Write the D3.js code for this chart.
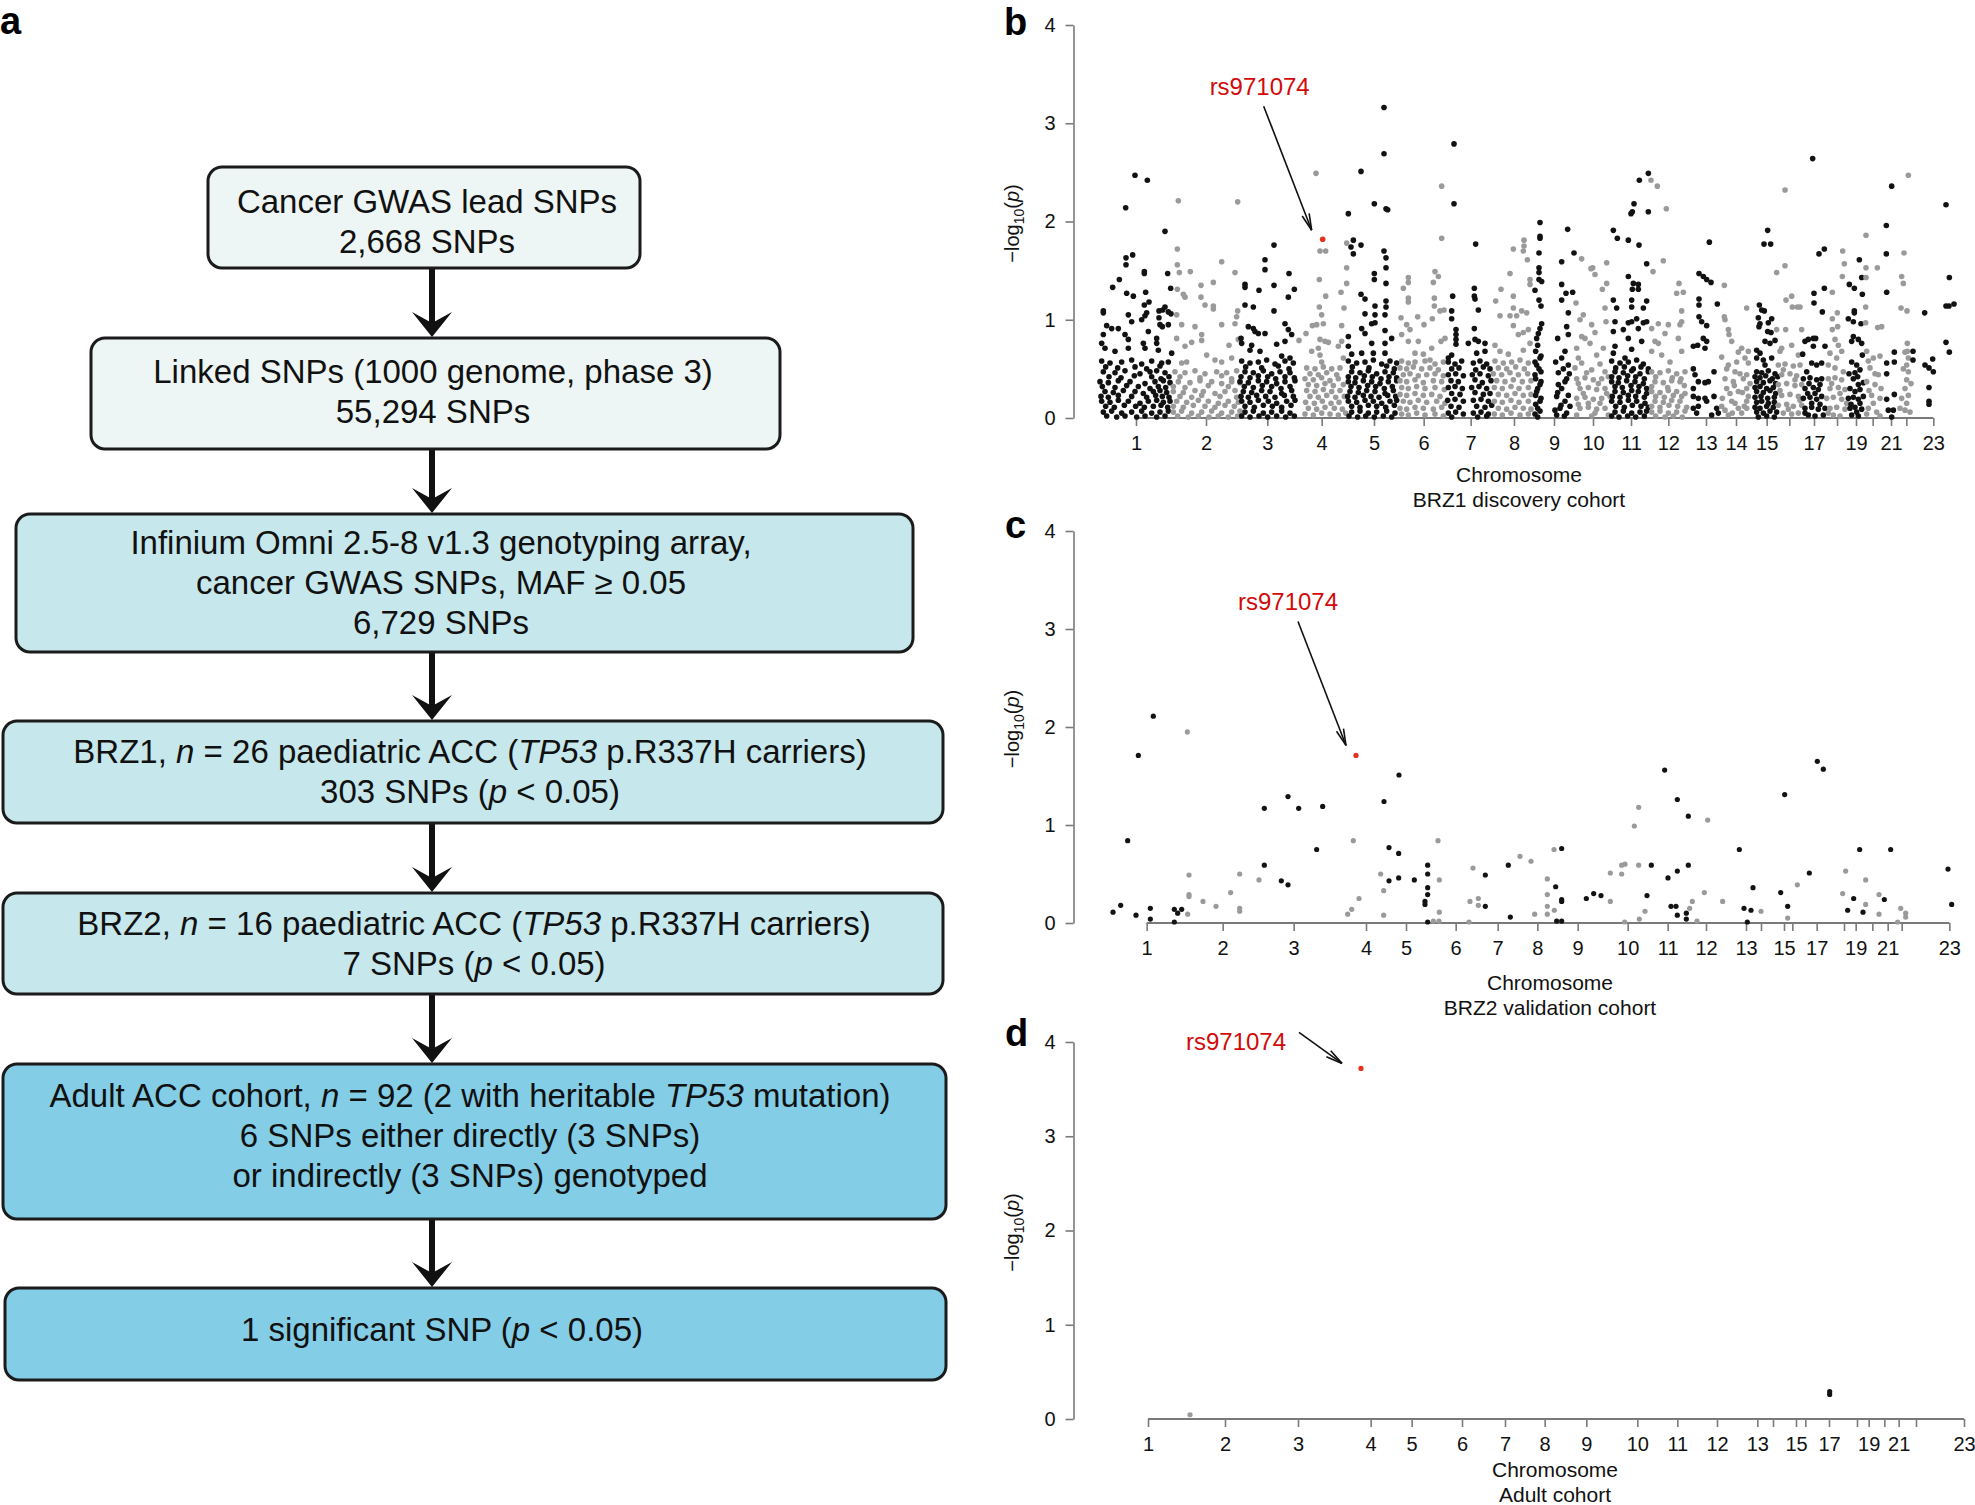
<!DOCTYPE html>
<html>
<head>
<meta charset="utf-8">
<script src="https://cdn.jsdelivr.net/npm/d3@7"></script>
<style>
  body { margin: 0; background: #fff; }
  text { font-family: "Liberation Sans", Arial, Helvetica, sans-serif; }
</style>
</head>
<body>
<div id="fig"></div>
<script>
// ---- data ----
// chromosome labels and which labels are printed under each Manhattan plot
const chrLabels = d3.range(1, 24).map(String);
const shownB = ['1','2','3','4','5','6','7','8','9','10','11','12','13','14','15','17','19','21','23'];
const shownCD = ['1','2','3','4','5','6','7','8','9','10','11','12','13','15','17','19','21','23'];

// chromosome centre positions (cumulative genome index) for each cohort
const ticksB = [153,363,547,710,867,1016,1157,1287,1407,1524,1638,1750,1863,1953,2045,2113,2187,2256,2313,2363,2418,2464,2545];
const ticksC = [185,413,626,843,963,1112,1238,1357,1478,1628,1748,1863,1983,2028,2097,2122,2195,2277,2312,2362,2408,2450,2593];
const ticksD = [189,420,639,857,980,1131,1260,1379,1504,1657,1777,1896,2017,2064,2133,2161,2232,2316,2351,2398,2441,2493,2637];

// BRZ1 discovery cohort: [position, -log10(p)] per chromosome
const b01 = [[150,2.47],[187,2.42],[122,2.14],[240,1.90],[123,1.63],[143,1.66],[123,1.56],[178,1.49],[178,1.47],[248,1.47],[103,1.41],[83,1.33],[257,1.32],[125,1.27],[145,1.24],[182,1.28],[55,1.09],[55,1.07],[192,1.18],[178,1.15],[240,1.13],[233,1.10],[250,1.08],[258,1.06],[130,1.05],[140,0.98],[180,1.04],[185,1.07],[170,1.00],[222,1.09],[222,1.02],[225,0.95],[250,0.95],[232,0.93],[65,0.94],[80,0.91],[100,0.91],[55,0.85],[120,0.85],[130,0.80],[190,0.88],[50,0.76],[60,0.71],[90,0.68],[130,0.71],[175,0.76],[180,0.71],[215,0.81],[215,0.76],[220,0.69],[260,0.66],
  [50,.58],[75,.56],[110,.57],[140,.59],[170,.55],[200,.58],[230,.56],[250,.57],[62,.52],[98,.51],[150,.52],[185,.50],[225,.53],
  [55,.47],[90,.46],[120,.48],[165,.45],[195,.47],[215,.48],[240,.46],[72,.42],[108,.41],[148,.43],[200,.42],[228,.40],[252,.42],
  [45,.37],[70,.36],[100,.38],[135,.37],[180,.35],[210,.37],[235,.38],[255,.36],[52,.32],[90,.31],[125,.33],[160,.32],[195,.30],[220,.32],[242,.31],
  [60,.27],[85,.26],[115,.28],[150,.27],[175,.25],[205,.27],[225,.28],[245,.26],[48,.22],[70,.21],[100,.23],[140,.22],[185,.21],[212,.23],[232,.22],[252,.21],
  [50,.17],[75,.16],[100,.18],[130,.17],[165,.15],[190,.17],[215,.18],[235,.16],[255,.17],[62,.12],[88,.11],[118,.13],[152,.12],[178,.11],[205,.12],[228,.13],[248,.11],
  [55,.06],[80,.07],[110,.05],[140,.06],[170,.07],[200,.05],[225,.06],[250,.07],[65,.02],[95,.01],[120,.02],[155,.01],[180,.02],[215,.01],[240,.02]];
const b02 = [[280,2.21],[458,2.20],[277,1.72],[277,1.56],[410,1.59],[283,1.48],[316,1.49],[450,1.48],[385,1.38],[348,1.35],[277,1.31],[295,1.26],[300,1.23],[348,1.23],[360,1.15],[385,1.14],[385,1.11],[458,1.09],[275,1.05],[290,0.95],[330,0.93],[410,0.95],[450,0.96],[455,1.03],[350,0.85],[350,0.79],[275,0.81],[300,0.73],[320,0.77],[432,0.74],[460,0.80],[365,0.64],[390,0.59],[410,0.57],[440,0.61],[290,0.56],[305,0.57],
  [270,.47],[300,.46],[330,.48],[360,.45],[395,.47],[425,.46],[455,.48],[285,.42],[345,.41],[410,.43],[440,.40],
  [280,.37],[315,.36],[345,.38],[380,.37],[410,.35],[440,.37],[465,.36],[265,.32],[300,.31],[370,.33],[430,.32],
  [265,.27],[295,.26],[330,.28],[355,.27],[390,.25],[420,.27],[450,.28],[285,.22],[320,.21],[350,.23],[405,.22],[455,.21],
  [275,.17],[305,.16],[340,.18],[370,.17],[400,.15],[430,.17],[460,.16],[265,.12],[295,.11],[325,.13],[360,.12],[390,.11],[420,.13],[448,.12],
  [265,.06],[290,.07],[320,.05],[350,.06],[380,.07],[410,.05],[440,.06],[465,.07],[278,.02],[310,.01],[340,.02],[372,.01],[400,.02],[430,.01],[458,.02]];
const b03 = [[567,1.76],[540,1.61],[540,1.51],[612,1.47],[480,1.36],[480,1.33],[522,1.30],[567,1.35],[628,1.31],[610,1.23],[480,1.15],[505,1.13],[567,1.09],[600,0.96],[490,0.93],[505,0.91],[510,0.88],[520,0.86],[540,0.86],[610,0.90],[620,0.85],[468,0.81],[470,0.76],[500,0.74],[575,0.75],[600,0.78],[495,0.69],[525,0.68],[590,0.63],[615,0.61],
  [470,.58],[495,.56],[520,.57],[545,.59],[570,.55],[600,.58],[625,.56],[482,.52],[530,.51],[580,.53],[612,.50],
  [480,.47],[505,.46],[535,.48],[560,.45],[585,.47],[615,.46],[468,.42],[495,.41],[520,.43],[548,.42],[572,.40],[600,.42],[628,.41],
  [465,.37],[490,.36],[520,.38],[545,.37],[575,.35],[600,.37],[630,.38],[478,.32],[505,.31],[532,.33],[560,.32],[588,.30],[615,.32],
  [475,.27],[500,.26],[530,.28],[555,.27],[590,.25],[620,.28],[468,.22],[490,.21],[515,.23],[542,.22],[570,.21],[598,.23],[625,.22],
  [470,.17],[495,.16],[520,.18],[550,.17],[575,.15],[605,.17],[630,.18],[480,.12],[508,.11],[535,.13],[562,.12],[590,.11],[618,.13],
  [480,.06],[505,.07],[535,.05],[560,.06],[590,.07],[615,.05],[470,.02],[495,.01],[522,.02],[548,.01],[575,.02],[602,.01],[628,.02]];
const b04 = [[693,2.49],[705,1.70],[722,1.70],[703,1.41],[722,1.24],[703,1.13],[710,1.05],[715,0.96],[695,0.95],[682,0.94],[663,0.86],[705,0.80],[720,0.78],[730,0.77],[700,0.71],[680,0.68],[705,0.64],[710,0.57],[642,0.79],
  [785,1.78],[785,1.53],[785,1.37],[768,1.28],[777,1.12],[770,0.94],[770,0.78],[760,0.73],[775,0.61],
  [665,.51],[690,.50],[715,.52],[740,.50],[765,.51],[675,.45],[700,.44],[725,.46],[755,.44],[660,.40],[685,.39],[710,.41],[735,.38],[760,.40],
  [670,.34],[695,.33],[720,.35],[745,.33],[775,.34],[665,.28],[690,.27],[715,.29],[740,.27],[765,.28],[675,.22],[700,.21],[725,.23],[752,.21],[778,.22],
  [662,.16],[688,.15],[712,.17],[738,.15],[762,.16],[670,.10],[695,.09],[720,.11],[748,.10],[772,.09],[660,.04],[685,.03],[710,.05],[735,.04],[760,.03],[782,.05]];
const b05 = [[897,3.16],[897,2.69],[828,2.51],[868,2.18],[903,2.13],[908,2.12],[790,2.08],[805,1.81],[798,1.74],[828,1.76],[805,1.67],[897,1.70],[903,1.63],[903,1.53],[903,1.37],[868,1.47],[868,1.41],[828,1.26],[840,1.21],[870,1.14],[903,1.19],[903,1.13],[900,1.05],[840,1.06],[870,1.05],[860,0.96],[870,0.97],[830,0.91],[840,0.86],[900,0.89],[920,0.81],[790,0.83],[790,0.73],[860,0.76],[900,0.76],[830,0.66],[865,0.66],[900,0.66],[800,0.65],
  [790,.58],[815,.56],[840,.57],[865,.59],[890,.55],[915,.58],[935,.56],[802,.52],[852,.51],[905,.53],[928,.50],
  [800,.47],[825,.46],[850,.48],[875,.45],[900,.47],[925,.46],[790,.42],[812,.41],[838,.43],[862,.42],[888,.40],[912,.42],[935,.41],
  [790,.37],[810,.36],[835,.38],[860,.37],[885,.35],[910,.37],[935,.38],[798,.32],[822,.31],[848,.33],[872,.32],[898,.30],[922,.32],
  [795,.27],[820,.26],[845,.28],[870,.27],[900,.25],[925,.28],[788,.22],[810,.21],[835,.23],[858,.22],[882,.21],[908,.23],[932,.22],
  [790,.17],[815,.16],[840,.18],[865,.17],[890,.15],[915,.17],[935,.18],[800,.12],[825,.11],[850,.13],[875,.12],[902,.11],[928,.13],
  [800,.06],[825,.07],[850,.05],[875,.06],[905,.07],[930,.05],[792,.02],[818,.01],[842,.02],[868,.01],[895,.02],[920,.01]];
const b06 = [[1070,2.36],[1070,1.83],[1050,1.49],[1060,1.44],[1045,1.38],[970,1.43],[970,1.38],[955,1.32],[970,1.22],[970,1.18],[1048,1.22],[1048,1.14],[998,1.03],[1017,0.95],[1042,1.01],[948,1.02],[965,0.95],[975,0.90],[1065,1.09],[1077,1.10],[950,0.85],[970,0.78],[1000,0.78],[1040,0.71],[1068,0.78],[1080,0.81],[1015,0.65],[1035,0.59],[990,0.66],
  [950,.58],[970,.56],[990,.57],[1020,.58],[1050,.55],[1075,.57],[945,.51],[965,.50],[985,.52],[1010,.50],[1035,.51],[1060,.49],
  [955,.44],[975,.45],[1000,.43],[1025,.44],[1050,.45],[1075,.43],[945,.38],[965,.37],[990,.39],[1015,.36],[1045,.38],[1070,.37],
  [950,.31],[970,.30],[995,.32],[1020,.30],[1050,.31],[1078,.29],[945,.24],[965,.23],[990,.25],[1015,.23],[1040,.24],[1065,.22],
  [955,.17],[975,.16],[1000,.18],[1025,.16],[1055,.17],[1080,.15],[945,.10],[965,.09],[990,.11],[1015,.10],[1045,.09],[1070,.11],
  [950,.04],[970,.03],[995,.05],[1020,.03],[1050,.04],[1075,.02]];
const b07 = [[1107,2.79],[1107,2.18],[1172,1.77],[1103,1.24],[1168,1.32],[1168,1.24],[1170,1.21],[1180,1.10],[1100,1.09],[1100,1.01],[1113,0.90],[1113,0.85],[1113,0.80],[1113,0.75],[1168,0.91],[1170,0.80],[1180,0.78],[1200,0.76],[1150,0.76],[1175,0.66],[1200,0.68],[1100,0.64],[1090,0.61],
  [1090,.57],[1110,.55],[1130,.58],[1165,.56],[1185,.58],[1205,.55],[1100,.50],[1122,.51],[1172,.49],[1195,.52],[1215,.50],
  [1090,.44],[1112,.45],[1135,.43],[1162,.44],[1185,.45],[1210,.43],[1098,.38],[1120,.37],[1170,.39],[1192,.36],[1218,.38],
  [1090,.31],[1110,.32],[1132,.30],[1160,.31],[1182,.32],[1205,.30],[1100,.25],[1125,.24],[1170,.26],[1195,.24],[1215,.25],
  [1088,.18],[1110,.19],[1135,.17],[1165,.18],[1188,.19],[1210,.17],[1098,.12],[1122,.11],[1175,.12],[1200,.11],[1220,.13],
  [1090,.05],[1112,.06],[1135,.04],[1165,.05],[1188,.06],[1210,.04],[1100,.01],[1178,.01],[1205,.02]];
const b08 = [[1285,1.72],[1317,1.81],[1317,1.75],[1315,1.70],[1327,1.61],[1275,1.47],[1248,1.31],[1232,1.19],[1285,1.24],[1285,1.12],[1275,1.04],[1295,1.04],[1310,1.09],[1325,1.07],[1245,1.04],[1285,0.94],[1300,0.85],[1315,0.87],[1230,0.74],[1245,0.68],[1270,0.65],[1315,0.69],[1335,1.41],[1335,1.36],[1330,0.90],[1335,0.76],
  [1230,.58],[1255,.56],[1280,.57],[1305,.59],[1330,.56],[1240,.51],[1265,.50],[1292,.52],[1318,.50],
  [1225,.45],[1250,.44],[1275,.46],[1300,.44],[1328,.45],[1235,.38],[1260,.37],[1285,.39],[1312,.37],[1338,.38],
  [1228,.31],[1252,.30],[1278,.32],[1302,.30],[1330,.31],[1240,.24],[1265,.23],[1290,.25],[1315,.23],[1338,.24],
  [1228,.17],[1252,.16],[1278,.18],[1302,.16],[1330,.17],[1240,.10],[1265,.09],[1290,.11],[1315,.10],[1338,.09],
  [1228,.04],[1252,.03],[1278,.05],[1305,.03],[1330,.04]];
const b09 = [[1365,1.99],[1365,1.85],[1365,1.83],[1362,1.68],[1362,1.53],[1362,1.48],[1362,1.41],[1370,1.39],[1350,1.30],[1362,1.20],[1368,1.14],[1370,0.96],[1365,0.91],[1360,0.86],[1355,0.81],[1358,0.74],
  [1352,.68],[1365,.61],[1355,.54],[1368,.47],[1352,.40],[1365,.34],[1355,.27],[1368,.20],[1352,.14],[1365,.07],[1358,.01],[1368,.63],[1350,.57],[1362,.50],[1350,.44],[1368,.37],[1358,.30],[1352,.23],[1365,.17],[1358,.10],[1350,.04],
  [1448,1.92],[1467,1.68],[1463,1.28],[1443,1.27],[1430,1.59],[1430,1.36],[1430,1.20],[1450,1.07],[1445,0.93],[1450,0.85],[1418,0.81],[1440,0.68],[1430,0.61],[1450,0.54],[1420,0.46],[1445,0.40],[1430,0.30],[1415,0.22],[1440,0.17],[1425,0.10],[1445,0.05],[1415,0.03],[1453,0.45],[1420,0.34],[1450,0.23],
  [1412,.57],[1435,.50],[1418,.26],[1440,.37],[1428,.13],[1455,.12],[1410,.08],[1438,.02]];
const b10 = [[1490,1.62],[1523,1.53],[1530,1.46],[1518,1.52],[1565,1.58],[1473,1.17],[1495,1.05],[1485,1.00],[1552,1.31],[1565,1.37],[1560,1.12],[1563,0.98],[1520,0.95],[1530,0.87],[1490,0.83],[1500,0.81],[1515,0.76],[1475,0.71],[1480,0.61],[1470,0.51],[1535,0.64],[1520,0.49],[1555,0.71],
  [1475,.40],[1500,.41],[1525,.39],[1550,.40],[1570,.42],[1485,.30],[1510,.31],[1535,.29],[1560,.30],
  [1475,.20],[1500,.21],[1525,.19],[1550,.20],[1575,.22],[1485,.10],[1510,.11],[1535,.09],[1560,.10],[1475,.03],[1520,.02],[1570,.03],
  [1490,.56],[1545,.55],[1505,.46],[1560,.47],[1480,.35],[1540,.35],[1495,.25],[1565,.25],[1510,.15],[1545,.15],[1480,.14],[1530,.05]];
const b11 = [[1690,2.49],[1663,2.42],[1647,2.18],[1642,2.10],[1638,2.08],[1690,2.10],[1585,1.91],[1597,1.83],[1630,1.81],[1662,1.76],[1685,1.57],[1630,1.44],[1645,1.37],[1660,1.36],[1660,1.31],[1642,1.31],[1585,1.20],[1595,1.12],[1640,1.20],[1640,1.13],[1685,1.19],[1675,1.12],[1590,0.98],[1630,0.97],[1640,0.98],[1655,1.01],[1675,0.97],[1685,0.98],[1585,0.88],[1615,0.90],[1660,0.91],[1670,0.78],[1630,0.81],[1585,0.66],[1590,0.73],[1620,0.61],[1640,0.70],
  [1580,.58],[1605,.56],[1630,.57],[1655,.59],[1675,.55],[1592,.51],[1618,.52],[1645,.50],[1668,.52],[1690,.50],
  [1590,.47],[1615,.46],[1640,.48],[1665,.45],[1690,.47],[1580,.42],[1602,.41],[1628,.43],[1652,.42],[1678,.40],
  [1580,.37],[1600,.36],[1625,.38],[1650,.37],[1675,.35],[1590,.32],[1612,.31],[1638,.33],[1662,.32],[1685,.30],
  [1590,.27],[1615,.26],[1640,.28],[1660,.27],[1685,.25],[1582,.22],[1605,.21],[1630,.23],[1652,.22],[1678,.21],
  [1580,.17],[1605,.16],[1630,.18],[1655,.17],[1680,.15],[1592,.12],[1618,.11],[1642,.13],[1668,.12],[1690,.11],
  [1590,.06],[1615,.07],[1640,.05],[1665,.06],[1685,.07],[1580,.02],[1602,.01],[1628,.02],[1652,.01],[1678,.02]];
const b12 = [[1698,2.42],[1717,2.36],[1744,2.13],[1735,1.60],[1704,1.49],[1782,1.37],[1795,1.28],[1775,1.27],[1750,0.95],[1720,0.96],[1700,0.91],[1790,1.09],[1790,0.98],[1785,0.95],[1710,0.78],[1720,0.76],[1740,0.86],[1780,0.81],[1700,0.68],[1730,0.64],[1755,0.57],[1790,0.68],
  [1700,.47],[1725,.46],[1750,.48],[1775,.45],[1800,.47],[1712,.42],[1762,.41],[1788,.40],
  [1710,.37],[1735,.36],[1760,.38],[1785,.37],[1700,.32],[1748,.31],[1798,.33],
  [1700,.27],[1725,.26],[1750,.28],[1775,.27],[1800,.25],[1712,.22],[1738,.21],[1765,.23],[1790,.22],
  [1710,.17],[1735,.16],[1760,.18],[1785,.17],[1700,.12],[1725,.11],[1752,.13],[1778,.12],[1805,.11],
  [1700,.06],[1725,.07],[1750,.05],[1775,.06],[1800,.07],[1712,.02],[1740,.01],[1765,.02],[1792,.01]];
const b13 = [[1873,1.79],[1842,1.47],[1855,1.44],[1865,1.41],[1878,1.38],[1897,1.16],[1842,1.21],[1842,1.15],[1842,1.03],[1850,0.98],[1865,0.94],[1855,0.81],[1865,0.78],[1860,0.71],[1825,0.73],[1838,0.74],[1825,0.50],[1830,0.44],[1840,0.37],[1860,0.36],[1870,0.37],[1887,0.47],[1825,0.30],[1825,0.22],[1840,0.20],[1860,0.20],[1865,0.17],[1887,0.22],[1825,0.10],[1840,0.12],[1895,0.10],[1835,0.05],[1880,0.03],[1900,0.05]];
const b14 = [[1918,1.35],[1918,1.03],[1920,1.00],[1930,0.90],[1932,0.85],[1985,1.12],[1940,0.78],[1960,0.67],[1970,0.71],[1980,0.61],[1990,0.68],[1930,0.54],[1950,0.47],[1920,0.40],[1945,0.37],[1975,0.40],[1925,0.30],[1960,0.27],[1940,0.17],[1920,0.08],[1960,0.10],[1985,0.17],[1985,0.30],
  [1990,0.56],[1985,0.44],[1990,0.22],[1985,0.10],[1935,.25],[1950,.15],[1970,.05],[1930,.03],[1995,.35],[1955,.57],[1910,.62],[1925,.50],[1965,.45],
  [1912,.20],[1948,.33],[1972,.26],[1910,.12],[1942,.05],[1978,.12]];
const b15 = [[2048,1.91],[2037,1.77],[2057,1.77],[2023,1.15],[2030,1.10],[2038,1.09],[2020,1.02],[2025,0.96],[2022,0.93],[2060,1.01],[2050,0.97],[2048,0.88],[2058,0.87],[2040,0.78],[2055,0.76],[2070,0.79],[2015,0.69],[2025,0.66],[2015,0.61],[2035,0.59],[2060,0.61],[2040,0.54],
  [2015,.47],[2030,.46],[2050,.48],[2070,.45],[2010,.42],[2025,.41],[2042,.43],[2062,.40],[2078,.42],
  [2015,.37],[2035,.36],[2055,.38],[2072,.35],[2010,.31],[2025,.32],[2045,.30],[2065,.31],
  [2015,.27],[2035,.26],[2055,.28],[2072,.25],[2010,.21],[2028,.22],[2048,.20],[2068,.21],
  [2015,.16],[2030,.17],[2050,.15],[2068,.16],[2010,.11],[2025,.10],[2045,.12],[2065,.11],
  [2015,.06],[2035,.05],[2055,.07],[2075,.06],[2020,.01],[2045,.02],[2068,.01]];
const b16 = [[2100,2.32],[2100,1.55],[2075,1.48],[2103,1.20],[2120,1.24],[2122,1.13],[2137,1.13],[2145,1.13],[2075,0.90],[2102,0.90],[2150,0.90],[2090,0.71],[2120,0.74],[2140,0.64],[2085,0.68],
  [2080,.54],[2100,.55],[2125,.53],[2145,.54],[2090,.44],[2115,.45],[2135,.43],[2080,.34],[2105,.35],[2130,.33],[2150,.34],
  [2090,.23],[2115,.24],[2140,.22],[2080,.13],[2105,.14],[2125,.12],[2150,.13],[2095,.05],[2120,.04],[2140,.05],
  [2095,.49],[2130,.39],[2085,.28],[2145,.18],[2110,.09]];
const b17 = [[2183,2.64],[2218,1.72],[2202,1.67],[2187,1.27],[2187,1.17],[2218,1.32],[2212,1.08],[2160,0.78],[2170,0.80],[2185,0.81],[2192,0.81],[2185,0.73],[2153,0.65],[2220,0.73],[2180,0.56],[2195,0.54],[2210,0.56],[2165,0.47],
  [2155,.40],[2175,.41],[2195,.39],[2210,.40],[2160,.30],[2185,.31],[2200,.29],[2155,.20],[2175,.21],[2195,.19],
  [2160,.10],[2180,.11],[2200,.09],[2220,.10],[2170,.03],[2190,.02],[2215,.03],
  [2172,.35],[2205,.34],[2168,.25],[2190,.25],[2210,.22],[2180,.15],[2205,.14],[2160,.05]];
const b18 = [[2273,1.70],[2278,1.57],[2242,1.28],[2272,1.44],[2257,1.07],[2242,1.01],[2258,0.93],[2242,0.90],[2250,0.80],[2260,0.74],[2235,0.66],[2255,0.61],[2270,0.68],[2230,0.54],[2250,0.51],[2275,0.47],
  [2230,.40],[2250,.41],[2270,.39],[2235,.30],[2260,.31],[2280,.29],[2225,.20],[2245,.21],[2270,.19],[2235,.10],[2255,.11],[2280,.09],[2245,.03],[2265,.02],
  [2240,.35],[2265,.25],[2285,.15],[2230,.05]];
const b19 = [[2323,1.61],[2293,1.36],[2308,1.32],[2330,1.43],[2332,1.26],[2308,1.09],[2308,1.07],[2290,1.01],[2305,0.98],[2328,0.96],[2305,0.83],[2300,0.78],[2320,0.80],[2330,0.76],[2332,0.64],[2315,0.54],[2325,0.49],[2310,0.46],[2300,0.57],[2305,0.40],[2320,0.34],
  [2295,.30],[2310,.27],[2325,.29],[2290,.20],[2305,.21],[2320,.19],[2335,.22],[2295,.10],[2310,.11],[2330,.09],[2300,.03],[2320,.02],
  [2292,.45],[2318,.42],[2335,.36],[2298,.14],[2325,.15],[2315,.06]];
const b20 = [[2343,1.86],[2343,1.53],[2343,1.43],[2377,1.53],[2342,1.13],[2342,0.97],[2378,0.92],[2390,0.93],[2345,0.68],[2365,0.61],[2385,0.63],[2355,0.51],[2380,0.44],[2345,0.37],[2370,0.34],[2360,0.23],[2385,0.20],[2350,0.10],[2375,0.06],
  [2352,.28],[2388,.30],[2365,.15],[2345,.04],[2385,.02],[2370,.45],[2350,.58]];
const b21 = [[2420,2.36],[2404,1.96],[2404,1.67],[2405,1.28],[2428,0.67],[2428,0.57],[2405,0.56],[2405,0.45],[2405,0.19],[2410,0.08],[2425,0.08],[2428,0.24],[2420,0.01]];
const b22 = [[2470,2.47],[2457,1.68],[2450,1.44],[2455,1.37],[2448,1.12],[2466,1.09],[2467,0.76],[2467,0.68],[2460,0.67],[2470,0.61],[2465,0.54],[2470,0.47],[2465,0.39],[2460,0.30],[2470,0.23],[2465,0.15],[2460,0.08],[2475,0.06],
  [2450,.20],[2478,.35],[2455,.50],[2445,.10]];
const b23 = [[2583,2.17],[2593,1.43],[2583,1.14],[2592,1.14],[2607,1.16],[2519,1.07],[2484,0.68],[2484,0.59],[2583,0.77],[2593,0.67],[2543,0.60],[2520,0.54],[2532,0.51],[2545,0.47],[2532,0.31],[2532,0.17],[2532,0.14]];
const brz1 = [b01,b02,b03,b04,b05,b06,b07,b08,b09,b10,b11,b12,b13,b14,b15,b16,b17,b18,b19,b20,b21,b22,b23];

// BRZ2 validation cohort: [position, -log10(p), chromosome]
const brz2 = [[84,0.11,1],[107,0.18,1],[128,0.84,1],[153,0.08,1],[160,1.71,1],[196,0.15,1],[196,0.04,1],[205,2.11,1],[268,0.14,1],[290,0.14,1],[278,0.10,1],[268,0.01,1],
  [307,1.95,2],[312,0.49,2],[312,0.29,2],[312,0.27,2],[308,0.09,2],[354,0.22,2],[393,0.17,2],[437,0.31,2],[464,0.50,2],[464,0.15,2],[464,0.12,2],[522,0.44,2],
  [538,1.17,3],[538,0.59,3],[589,0.43,3],[609,1.29,3],[609,0.39,3],[641,1.17,3],[695,0.75,3],[713,1.19,3],
  [788,0.09,4],[800,0.14,4],[805,0.84,4],[822,0.25,4],[887,0.50,4],[896,0.33,4],[896,0.08,4],
  [897,1.24,5],[912,0.77,5],[912,0.43,5],[941,0.71,5],[941,0.46,5],[942,1.51,5],[988,0.44,5],[1020,0.22,5],[1020,0.19,5],[1028,0.59,5],[1028,0.50,5],[1028,0.36,5],[1028,0.29,5],[1028,0.01,5],
  [1045,0.02,6],[1059,0.84,6],[1062,0.02,6],[1063,0.44,6],[1063,0.11,6],[1152,0.01,6],[1155,0.22,6],[1164,0.56,6],[1180,0.25,6],[1180,0.18,6],
  [1201,0.49,7],[1201,0.17,7],[1270,0.59,7],[1276,0.06,7],
  [1305,0.68,8],[1338,0.63,8],[1349,0.09,8],[1387,0.45,8],[1387,0.29,8],[1387,0.17,8],[1387,0.09,8],[1407,0.75,8],[1408,0.13,8],
  [1412,0.37,9],[1415,0.02,9],[1430,0.76,9],[1430,0.24,9],[1430,0.22,9],[1430,0.02,9],[1504,0.25,9],[1526,0.30,9],[1548,0.28,9],
  [1576,0.22,10],[1576,0.51,10],[1610,0.59,10],[1620,0.60,10],[1610,0.50,10],[1661,1.18,10],[1648,0.99,10],[1661,0.59,10],[1680,0.12,10],[1663,0.04,10],[1619,0.01,10],
  [1699,0.59,11],[1686,0.28,11],[1739,1.56,11],[1777,1.26,11],[1810,1.09,11],[1749,0.46,11],[1777,0.53,11],[1810,0.59,11],[1758,0.17,11],[1773,0.17,11],[1777,0.08,11],[1804,0.10,11],[1804,0.04,11],
  [1822,0.22,12],[1814,0.15,12],[1836,0.02,12],[1858,0.31,12],[1868,1.05,12],[1913,0.22,12],
  [1963,0.75,13],[2004,0.36,13],[1977,0.15,13],[1998,0.13,13],[1987,0.01,13],
  [2028,0.12,14],
  [2099,1.31,15],[2087,0.31,15],[2108,0.17,15],
  [2108,0.05,16],[2137,0.39,16],
  [2173,0.51,17],[2197,1.65,17],[2215,1.57,17],
  [2282,0.53,18],[2273,0.30,18],
  [2306,0.25,19],[2288,0.13,19],[2324,0.75,19],[2334,0.11,19],
  [2342,0.44,20],[2342,0.19,20],[2382,0.29,20],[2382,0.09,20],
  [2417,0.75,21],[2398,0.24,21],
  [2447,0.15,22],[2462,0.10,22],[2462,0.06,22],[2438,0.01,22],
  [2589,0.55,23],[2600,0.19,23]];

// Adult cohort: [position, -log10(p), chromosome]
const adult = [[315,0.045,2],[2234,0.26,17],[2234,0.29,17]];

// rs971074 in each cohort: [position, -log10(p)]
const hitB = [713, 1.82];
const hitC = [813, 1.71];
const hitD = [828, 3.72];

// flowchart text; *...* marks italics
const flowText = [
  ['Cancer GWAS lead SNPs', '2,668 SNPs'],
  ['Linked SNPs (1000 genome, phase 3)', '55,294 SNPs'],
  ['Infinium Omni 2.5-8 v1.3 genotyping array,', 'cancer GWAS SNPs, MAF \u2265 0.05', '6,729 SNPs'],
  ['BRZ1, *n* = 26 paediatric ACC (*TP53* p.R337H carriers)', '303 SNPs (*p* < 0.05)'],
  ['BRZ2, *n* = 16 paediatric ACC (*TP53* p.R337H carriers)', '7 SNPs (*p* < 0.05)'],
  ['Adult ACC cohort, *n* = 92 (2 with heritable *TP53* mutation)', '6 SNPs either directly (3 SNPs)', 'or indirectly (3 SNPs) genotyped'],
  ['1 significant SNP (*p* < 0.05)']
];

// ---- layout ----
const W = 1975, H = 1505;
const BLACK = '#121212', GREY = '#9a9a9a', RED = '#e8301e', LABELRED = '#d20a0a', AXIS = '#7a7a7a';
const FONT = '"Liberation Sans", Arial, Helvetica, sans-serif';

// box geometry; tx = text centre, dy = vertical nudge of the text block
const boxes = [
  {x: 208, y: 167, w: 432, h: 101, fill: '#edf6f5', tx: 427, dy: 4},
  {x: 91, y: 338, w: 689, h: 111, fill: '#edf6f5', tx: 433, dy: -2},
  {x: 16, y: 514, w: 897, h: 138, fill: '#c6e7ec', tx: 441, dy: 0},
  {x: 3, y: 721, w: 940, h: 102, fill: '#c6e7ec', tx: 470, dy: 0},
  {x: 3, y: 893, w: 940, h: 101, fill: '#c6e7ec', tx: 474, dy: 0},
  {x: 3, y: 1064, w: 943, h: 155, fill: '#84cde6', tx: 470, dy: -6},
  {x: 5, y: 1288, w: 941, h: 92, fill: '#84cde6', tx: 442, dy: -4}
];
const arrowX = 432;

const svg = d3.select('#fig').append('svg')
  .attr('width', W)
  .attr('height', H)
  .style('font-family', FONT);
svg.append('rect').attr('width', W).attr('height', H).attr('fill', '#fff');

// panel letters
const letters = [['a', 0, 34], ['b', 1004, 35], ['c', 1005, 538], ['d', 1005, 1046]];
svg.selectAll('text.letter').data(letters).join('text')
  .attr('class', 'letter')
  .attr('x', d => d[1]).attr('y', d => d[2])
  .attr('font-size', 38).attr('font-weight', 'bold').attr('fill', '#000')
  .text(d => d[0]);

// ---- flowchart (panel a) ----
const flow = svg.append('g').attr('id', 'flow');

// arrows between boxes
boxes.slice(0, -1).forEach((b, i) => {
  const y1 = b.y + b.h, y2 = boxes[i + 1].y - 1;
  flow.append('line')
    .attr('x1', arrowX).attr('x2', arrowX)
    .attr('y1', y1).attr('y2', y2 - 12)
    .attr('stroke', '#111').attr('stroke-width', 6);
  flow.append('path')
    .attr('d', `M${arrowX},${y2} L${arrowX - 20},${y2 - 25} L${arrowX},${y2 - 14} L${arrowX + 20},${y2 - 25} Z`)
    .attr('fill', '#111');
});

flow.selectAll('rect.box').data(boxes).join('rect')
  .attr('class', 'box')
  .attr('x', d => d.x).attr('y', d => d.y)
  .attr('width', d => d.w).attr('height', d => d.h)
  .attr('rx', 14).attr('ry', 14)
  .attr('fill', d => d.fill)
  .attr('stroke', '#1b1b1b').attr('stroke-width', 3);

const lineH = 40;
boxes.forEach((b, i) => {
  const lines = flowText[i];
  const cy = b.y + b.h / 2 + b.dy;
  lines.forEach((ln, j) => {
    const t = flow.append('text')
      .attr('x', b.tx)
      .attr('y', cy + (j - (lines.length - 1) / 2) * lineH + 11)
      .attr('text-anchor', 'middle')
      .attr('font-size', 33)
      .attr('fill', '#111');
    ln.split('*').forEach((seg, k) => {
      if (!seg) return;
      t.append('tspan').attr('font-style', k % 2 ? 'italic' : 'normal').text(seg);
    });
  });
});

// ---- Manhattan plots (panels b, c, d) ----
const x = d3.scaleLinear().domain([0, 2655]).range([1085, 1970]);
const axisX = 1073.5;

const panels = [
  {y0: 418, y4: 25, ticks: ticksB, shown: shownB, r: 2.8,
   pts: brz1.flatMap((arr, i) => arr.map(p => [p[0], p[1], i + 1])),
   hit: hitB, title: 'BRZ1 discovery cohort', titleX: 1519, titleY: 482,
   ann: {tip: [-11, -9], tail: [-59, -133], label: [-63, -144]}},
  {y0: 923, y4: 531, ticks: ticksC, shown: shownCD, r: 2.6,
   pts: brz2, hit: hitC, title: 'BRZ2 validation cohort', titleX: 1550, titleY: 990,
   ann: {tip: [-10, -10], tail: [-58, -134], label: [-68, -145]}},
  {y0: 1419, y4: 1042, ticks: ticksD, shown: shownCD, r: 2.6,
   pts: adult, hit: hitD, title: 'Adult cohort', titleX: 1555, titleY: 1477,
   ann: {tip: [-19, -5], tail: [-62, -36], label: [-125, -18]}}
];

panels.forEach(p => {
  const g = svg.append('g');
  const y = d3.scaleLinear().domain([0, 4]).range([p.y0, p.y4]);

  // y axis
  const yAxis = g.append('g')
    .attr('transform', `translate(${axisX},0)`)
    .call(d3.axisLeft(y).tickValues([0, 1, 2, 3, 4]).tickFormat(d3.format('d'))
      .tickSize(8).tickSizeOuter(0).tickPadding(10));
  yAxis.select('.domain').attr('stroke', AXIS).attr('stroke-width', 1.6);
  yAxis.selectAll('.tick line').attr('stroke', AXIS).attr('stroke-width', 1.6);
  yAxis.selectAll('.tick text').attr('font-size', 20).attr('fill', '#111').attr('font-family', FONT);

  // x axis: line spans first to last chromosome tick
  const labelOf = new Map(p.ticks.map((t, i) => [t, p.shown.includes(chrLabels[i]) ? chrLabels[i] : '']));
  const xAxis = g.append('g')
    .attr('transform', `translate(0,${p.y0})`)
    .call(d3.axisBottom(x).tickValues(p.ticks).tickFormat(d => labelOf.get(d))
      .tickSize(8).tickSizeOuter(0).tickPadding(10));
  xAxis.select('.domain').remove();
  xAxis.insert('line', ':first-child')
    .attr('x1', x(p.ticks[0])).attr('x2', x(p.ticks[p.ticks.length - 1]))
    .attr('stroke', AXIS).attr('stroke-width', 2.2);
  xAxis.selectAll('.tick line').attr('stroke', AXIS).attr('stroke-width', 1.6);
  xAxis.selectAll('.tick text').attr('font-size', 20).attr('fill', '#111').attr('font-family', FONT);

  // y title
  const yt = g.append('text')
    .attr('transform', `translate(1019,${(p.y0 + p.y4) / 2 + 2}) rotate(-90)`)
    .attr('text-anchor', 'middle').attr('font-size', 20).attr('fill', '#111');
  yt.append('tspan').text('\u2212log');
  yt.append('tspan').attr('font-size', 14).attr('dy', 5).text('10');
  yt.append('tspan').attr('dy', -5).text('(');
  yt.append('tspan').attr('font-style', 'italic').text('p');
  yt.append('tspan').text(')');

  // x titles
  g.append('text').attr('x', p.titleX).attr('y', p.titleY)
    .attr('text-anchor', 'middle').attr('font-size', 21).attr('fill', '#111').text('Chromosome');
  g.append('text').attr('x', p.titleX).attr('y', p.titleY + 25)
    .attr('text-anchor', 'middle').attr('font-size', 21).attr('fill', '#111').text(p.title);

  // SNPs
  g.append('g').selectAll('circle').data(p.pts).join('circle')
    .attr('cx', d => x(d[0])).attr('cy', d => y(d[1])).attr('r', p.r)
    .attr('fill', d => d[2] % 2 ? BLACK : GREY);

  // highlighted SNP rs971074 with arrow and label
  const hx = x(p.hit[0]), hy = y(p.hit[1]);
  g.append('circle').attr('cx', hx).attr('cy', hy).attr('r', p.r).attr('fill', RED);
  const tip = [hx + p.ann.tip[0], hy + p.ann.tip[1]];
  const tail = [hx + p.ann.tail[0], hy + p.ann.tail[1]];
  g.append('line')
    .attr('x1', tail[0]).attr('y1', tail[1]).attr('x2', tip[0]).attr('y2', tip[1])
    .attr('stroke', '#111').attr('stroke-width', 1.6);
  const ang = Math.atan2(tip[1] - tail[1], tip[0] - tail[0]);
  const headLen = 17, spread = 0.22;
  [-spread, spread].forEach(s => {
    g.append('line')
      .attr('x1', tip[0]).attr('y1', tip[1])
      .attr('x2', tip[0] - headLen * Math.cos(ang + s))
      .attr('y2', tip[1] - headLen * Math.sin(ang + s))
      .attr('stroke', '#111').attr('stroke-width', 1.6);
  });
  g.append('text')
    .attr('x', hx + p.ann.label[0]).attr('y', hy + p.ann.label[1])
    .attr('text-anchor', 'middle').attr('font-size', 24).attr('fill', LABELRED)
    .text('rs971074');
});
</script>
</body>
</html>
